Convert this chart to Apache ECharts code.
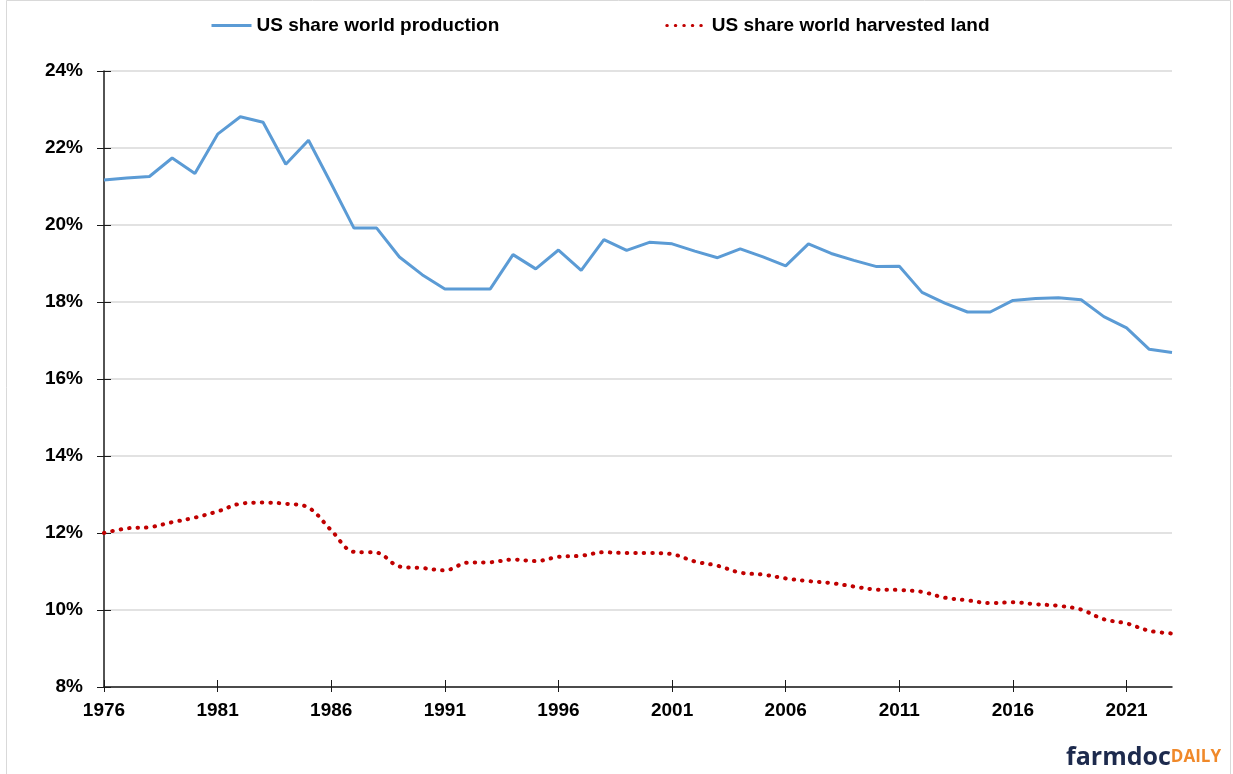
<!DOCTYPE html>
<html>
<head>
<meta charset="utf-8">
<script src="https://cdn.jsdelivr.net/npm/echarts@6/dist/echarts.min.js"></script>
<style>
  html, body { margin: 0; padding: 0; background: #fff; }
  #chart { width: 1233px; height: 774px; }
</style>
</head>
<body>
<div id="chart"></div>
<script>
  // years on the x axis
  const years = [];
  for (let y = 1976; y <= 2023; y++) years.push(String(y));

  // US share of world production (%)
  const productionShare = [
    21.17, 21.22, 21.26, 21.74, 21.34, 22.36, 22.81, 22.67, 21.58, 22.20,
    21.07, 19.92, 19.92, 19.17, 18.71, 18.34, 18.34, 18.34, 19.23, 18.86,
    19.35, 18.82, 19.62, 19.34, 19.55, 19.51, 19.32, 19.15, 19.38, 19.17,
    18.94, 19.51, 19.26, 19.08, 18.92, 18.93, 18.25, 17.97, 17.74, 17.74,
    18.04, 18.09, 18.11, 18.06, 17.62, 17.33, 16.77, 16.69
  ];

  // US share of world harvested land (%)
  const landShare = [
    12.00, 12.12, 12.15, 12.28, 12.40, 12.56, 12.76, 12.79, 12.76, 12.66,
    12.07, 11.51, 11.49, 11.13, 11.09, 11.03, 11.23, 11.24, 11.31, 11.27,
    11.38, 11.41, 11.50, 11.48, 11.48, 11.45, 11.26, 11.15, 10.97, 10.92,
    10.82, 10.75, 10.70, 10.61, 10.53, 10.52, 10.47, 10.32, 10.25, 10.18,
    10.20, 10.15, 10.11, 10.01, 9.76, 9.65, 9.46, 9.39
  ];

  const seriesNames = ['US share world production', 'US share world harvested land'];

  const font = '"Liberation Sans", Arial, sans-serif';
  const myChart = echarts.init(document.getElementById('chart'));

  myChart.setOption({
    backgroundColor: '#fff',
    animation: false,
    grid: { left: 104, right: 61, top: 71, bottom: 87 },
    legend: {
      top: 11,
      left: 205,
      itemWidth: 40,
      itemHeight: 14,
      itemGap: 166,
      itemStyle: { opacity: 0 },
      lineStyle: { width: 3 },
      textStyle: { fontFamily: font, fontWeight: 'bold', fontSize: 19, color: '#000' },
      data: seriesNames
    },
    xAxis: [
      {
        type: 'category',
        boundaryGap: false,
        data: years,
        axisLine: { lineStyle: { color: '#1a1a1a', width: 1.5 } },
        axisTick: { show: true, interval: 4, length: 5, lineStyle: { color: '#1a1a1a', width: 1 } },
        axisLabel: {
          interval: 4,
          margin: 14,
          fontFamily: font,
          fontWeight: 'bold',
          fontSize: 19,
          color: '#000'
        },
        splitLine: { show: false }
      },
      {
        // overlay so the ticks cross the axis line
        type: 'category',
        position: 'bottom',
        boundaryGap: false,
        data: years,
        axisLine: { show: false },
        axisTick: { show: true, inside: true, interval: 4, length: 7, lineStyle: { color: '#1a1a1a', width: 1 } },
        axisLabel: { show: false },
        splitLine: { show: false }
      }
    ],
    yAxis: [
      {
        type: 'value',
        min: 8,
        max: 24,
        interval: 2,
        axisLine: { show: true, lineStyle: { color: '#1a1a1a', width: 1.5 } },
        axisTick: { show: true, length: 7, lineStyle: { color: '#1a1a1a', width: 1 } },
        axisLabel: {
          formatter: '{value}%',
          margin: 21,
          fontFamily: font,
          fontWeight: 'bold',
          fontSize: 19,
          color: '#000'
        },
        splitLine: { show: true, lineStyle: { color: '#d9d9d9', width: 1.5 } }
      },
      {
        type: 'value',
        position: 'left',
        min: 8,
        max: 24,
        interval: 2,
        axisLine: { show: false },
        axisTick: { show: true, inside: true, length: 7, lineStyle: { color: '#1a1a1a', width: 1 } },
        axisLabel: { show: false },
        splitLine: { show: false }
      }
    ],
    series: [
      {
        name: seriesNames[0],
        type: 'line',
        data: productionShare,
        symbol: 'none',
        color: '#5b9bd5',
        lineStyle: { color: '#5b9bd5', width: 3 },
        z: 3
      },
      {
        name: seriesNames[1],
        type: 'line',
        data: landShare,
        symbol: 'none',
        smooth: 0.35,
        color: '#c00000',
        lineStyle: { color: '#c00000', width: 4, type: [0.5, 8], cap: 'round' },
        z: 3
      }
    ],
    graphic: [
      {
        type: 'rect',
        left: 4,
        top: -2,
        shape: { width: 1224, height: 778 },
        style: { fill: 'none', stroke: '#d9d9d9', lineWidth: 1 },
        silent: true
      },
      {
        type: 'text',
        right: 12,
        bottom: 4,
        style: {
          text: '{a|farmdoc}{b|DAILY}',
          rich: {
            a: { fontFamily: '"Open Sans", sans-serif', fontWeight: 'bold', fontSize: 25, fill: '#1d2a4d' },
            b: { fontFamily: '"Open Sans", sans-serif', fontWeight: 'bold', fontSize: 17, fill: '#f0892a' }
          }
        }
      }
    ]
  });

  window.addEventListener('resize', () => {
    myChart && myChart.resize();
  });
</script>
</body>
</html>
